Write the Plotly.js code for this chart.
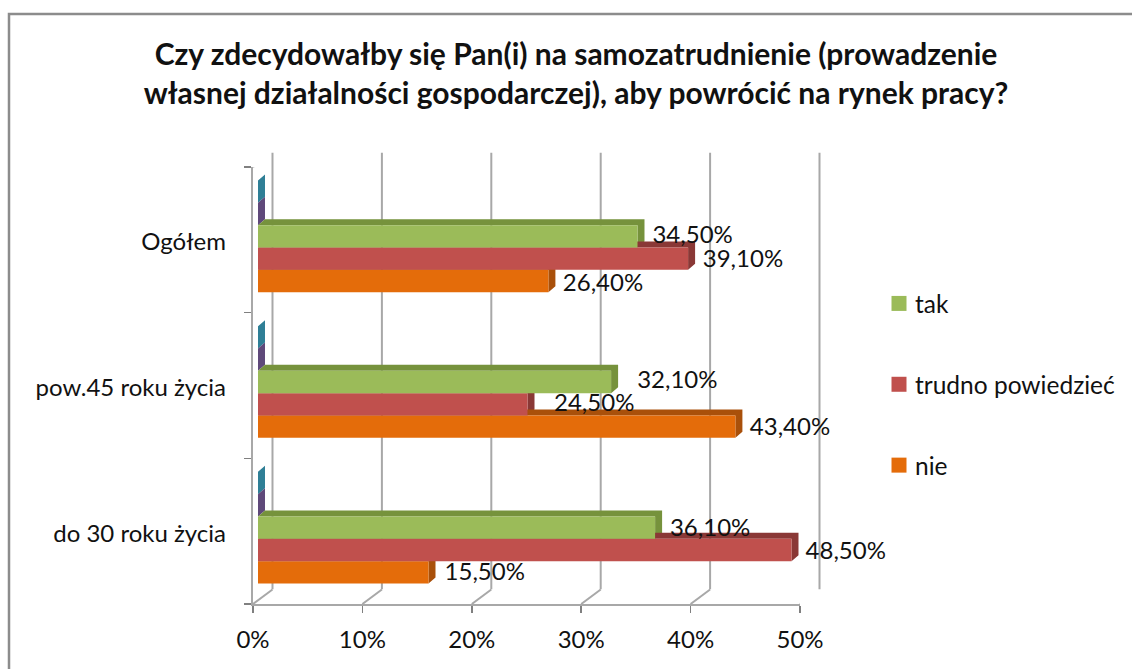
<!DOCTYPE html>
<html><head><meta charset="utf-8">
<script src="https://cdn.plot.ly/plotly-3.0.1.min.js"></script>
<style>html,body{margin:0;padding:0;background:#fff}</style>
</head><body><div id="chart" style="width:1132px;height:669px"></div>
<script>
const titleText = 'Czy zdecydowałby się Pan(i) na samozatrudnienie (prowadzenie<br>własnej działalności gospodarczej), aby powrócić na rynek pracy?';
const categories = ['do 30 roku życia', 'pow.45 roku życia', 'Ogółem'];
const xTicks = [0, 10, 20, 30, 40, 50];
const nie = [15.5, 43.4, 26.4];
const trudno = [48.5, 24.5, 39.1];
const tak = [36.1, 32.1, 34.5];
const seria4 = [0, 0, 0];
const seria5 = [0, 0, 0];
const labelGap = {tak: [17, 28, 17], trudno: [17, 28, 17], nie: [17, 17, 16]};
const labelLift = {tak: [0, 2, 1], trudno: [-1, 1, 0], nie: [0, 0, -2]};

const W = 1132, H = 669, FONT = 'Lato, Carlito, sans-serif', GRID = '#a8a8a8';
const X0 = 253, X1 = 800, YT = 167, YB = 604;
const pxPerX = (X1 - X0) / 50, pxPerY = (YB - YT) / 3, barPxPerX = 11;
const domX = dx => [(X0 + dx) / W, (X1 + dx) / W];
const domY = dy => [1 - (YB + dy) / H, 1 - (YT + dy) / H];
const barDomX = [(X0 + 5) / W, (X0 + 5 + 50 * barPxPerX) / W];

const series = [
  {name: 'nie', v: nie, c: '#e46c0a', d: '#a9500a', gap: labelGap.nie, lift: labelLift.nie},
  {name: 'trudno powiedzieć', v: trudno, c: '#c0504d', d: '#8a3836', gap: labelGap.trudno, lift: labelLift.trudno},
  {name: 'tak', v: tak, c: '#9bbb59', d: '#76923c', gap: labelGap.tak, lift: labelLift.tak},
  {name: 'seria 4', v: seria4, c: '#8064a2', d: '#5f497a', hidden: true},
  {name: 'seria 5', v: seria5, c: '#4bacc6', d: '#2f7f96', hidden: true}
];
const BARGAP = 0.233, barH = (1 - BARGAP) / series.length;
const DX = 7 / barPxPerX, DY = 6 / pxPerY;
const cy = categories.map((_, i) => i + 0.5);
const traces = [];

// Back wall lines
const wx = [], wy = [];
xTicks.forEach(t => { wx.push(t, t, null); wy.push(0, 3, null); });
traces.push({type: 'scatter', mode: 'lines', x: wx, y: wy, xaxis: 'x2', yaxis: 'y2', line: {color: GRID, width: 2},
  hoverinfo: 'skip', showlegend: false, cliponaxis: false});
// Depth faces of the bars
for (let s = series.length - 1; s >= 0; s--) {
  const S = series[s], xs = [], ys = [];
  S.v.forEach((v, i) => {
    const bot = cy[i] - (1 - BARGAP) / 2 + s * barH, top = bot + barH;
    xs.push(0, v, v + DX, DX, 0, null, v, v + DX, v + DX, v, v, null);
    ys.push(top, top, top + DY, top + DY, top, null, bot, bot + DY, top + DY, top, bot, null);
  });
  traces.push({type: 'scatter', mode: 'lines', x: xs, y: ys, xaxis: 'x3', yaxis: 'y3', fill: 'toself',
    fillcolor: S.d, line: {width: 0, color: S.d}, hoverinfo: 'skip', showlegend: false, cliponaxis: false});
}
// Front faces
series.forEach(S => traces.push({type: 'bar', orientation: 'h', name: S.name, x: S.v, y: cy,
  xaxis: 'x4', yaxis: 'y4', marker: {color: S.c, line: {width: 0}}, showlegend: false}));
// Value labels (own wider axis so nothing near 50% is dropped)
series.filter(S => !S.hidden).forEach((S, s) => traces.push({type: 'scatter', mode: 'text', xaxis: 'x6', yaxis: 'y6',
  x: S.v.map((v, i) => v + S.gap[i] / pxPerX),
  y: cy.map((c, i) => c - (1 - BARGAP) / 2 + (s + 0.5) * barH + S.lift[i] / pxPerY),
  text: S.v.map(v => v.toFixed(2).replace('.', ',') + '%'), textposition: 'middle right',
  textfont: {family: FONT, size: 24, color: '#111'}, showlegend: false, hoverinfo: 'skip', cliponaxis: false}));
// Wall-to-floor diagonals
const dgx = [], dgy = [];
xTicks.forEach(t => { dgx.push(t, t + 19.5 / pxPerX, null); dgy.push(0, 14.5 / pxPerY, null); });
dgx.push(0, 19.5 / pxPerX); dgy.push(3, 3 + 14.5 / pxPerY);
traces.push({type: 'scatter', mode: 'lines', x: dgx, y: dgy, xaxis: 'x', yaxis: 'y', line: {color: GRID, width: 2},
  hoverinfo: 'skip', showlegend: false, cliponaxis: false});
// Legend entries
[series[2], series[1], series[0]].forEach((S, i) => traces.push({type: 'scatter', mode: 'markers', name: S.name,
  x: [null], y: [null], xaxis: 'x4', yaxis: 'y4', legendgroup: 'g' + i,
  marker: {symbol: 'square', size: 15, color: S.c}}));

const hiddenAxis = {showgrid: false, zeroline: false, showticklabels: false, ticks: '', showline: false, fixedrange: true};
const layout = {
  width: W, height: H, margin: {l: 0, r: 0, t: 0, b: 0}, paper_bgcolor: '#fff', plot_bgcolor: 'rgba(0,0,0,0)',
  font: {family: FONT, size: 24, color: '#111'},
  title: {text: titleText, x: 576 / W, xanchor: 'center', y: 1 - 65 / H, yanchor: 'middle',
    font: {family: FONT, size: 30, weight: 700, color: '#111'}},
  barmode: 'group', bargap: BARGAP, bargroupgap: 0, showlegend: true,
  legend: {x: 875 / W, xanchor: 'left', y: 1 - 281 / H, yanchor: 'top', traceorder: 'grouped', tracegroupgap: 46,
    font: {family: FONT, size: 24.5, color: '#111'}, bgcolor: 'rgba(0,0,0,0)'},
  xaxis: {domain: domX(0), range: [0, 50], tickvals: xTicks, ticktext: xTicks.map(t => t + '%'), ticks: 'outside', ticklen: 7,
    tickwidth: 1.5, tickcolor: '#808080', showgrid: false, zeroline: false, showline: true, linecolor: GRID, linewidth: 2,
    anchor: 'y', fixedrange: true, ticklabelstandoff: 6, tickfont: {family: FONT, size: 24, color: '#111'}},
  yaxis: {domain: domY(0), range: [0, 3], tickvals: [0, 1, 2, 3], showticklabels: false, ticks: 'outside', ticklen: 7,
    tickwidth: 1.5, tickcolor: '#808080', showgrid: false, zeroline: false, showline: true, linecolor: GRID, linewidth: 2,
    anchor: 'x', fixedrange: true},
  // back wall: axis runs a little past 0 and 50 so the end lines keep their full width
  xaxis2: {...hiddenAxis, domain: [(X0 + 19.5 - pxPerX) / W, (X1 + 19.5 + pxPerX) / W], range: [-1, 51], anchor: 'y2'},
  yaxis2: {...hiddenAxis, domain: domY(-14.5), range: [0, 3], anchor: 'x2'},
  // bar depth faces and bar fronts
  xaxis3: {...hiddenAxis, domain: barDomX, range: [0, 50], anchor: 'y3'},
  yaxis3: {...hiddenAxis, domain: domY(-3.5), range: [0, 3], anchor: 'x3'},
  xaxis4: {...hiddenAxis, domain: barDomX, range: [0, 50], anchor: 'y4'},
  yaxis4: {...hiddenAxis, domain: domY(-3.5), range: [0, 3], anchor: 'x4'},
  // category labels
  xaxis5: {...hiddenAxis, domain: domX(0), range: [0, 50], anchor: 'y5'},
  yaxis5: {...hiddenAxis, domain: domY(2), range: [0, 3], anchor: 'x5', showticklabels: true, tickvals: cy, ticktext: categories,
    ticklabelstandoff: 26, tickfont: {family: FONT, size: 24, color: '#111'}},
  // value labels
  xaxis6: {...hiddenAxis, domain: [(X0 + 5) / W, (X0 + 5 + 60 * pxPerX) / W], range: [0, 60], anchor: 'y6'},
  yaxis6: {...hiddenAxis, domain: domY(-1.5), range: [0, 3], anchor: 'x6'},
  shapes: [{type: 'path', xref: 'paper', yref: 'paper',
    path: `M ${9 / W} -0.01 L ${9 / W} ${1 - 14 / H} L 1.01 ${1 - 14 / H}`,
    line: {color: '#8c8c8c', width: 2.5}, layer: 'below'}]
};
traces.push({type: 'scatter', mode: 'markers', x: [null], y: [null], xaxis: 'x5', yaxis: 'y5', showlegend: false, hoverinfo: 'skip'});
Plotly.newPlot('chart', traces, layout, {displayModeBar: false, staticPlot: true}).then(() => {
  document.querySelectorAll('#chart .legend .legendpoints').forEach(n => n.setAttribute('transform', 'translate(4,0)'));
});
</script></body></html>
